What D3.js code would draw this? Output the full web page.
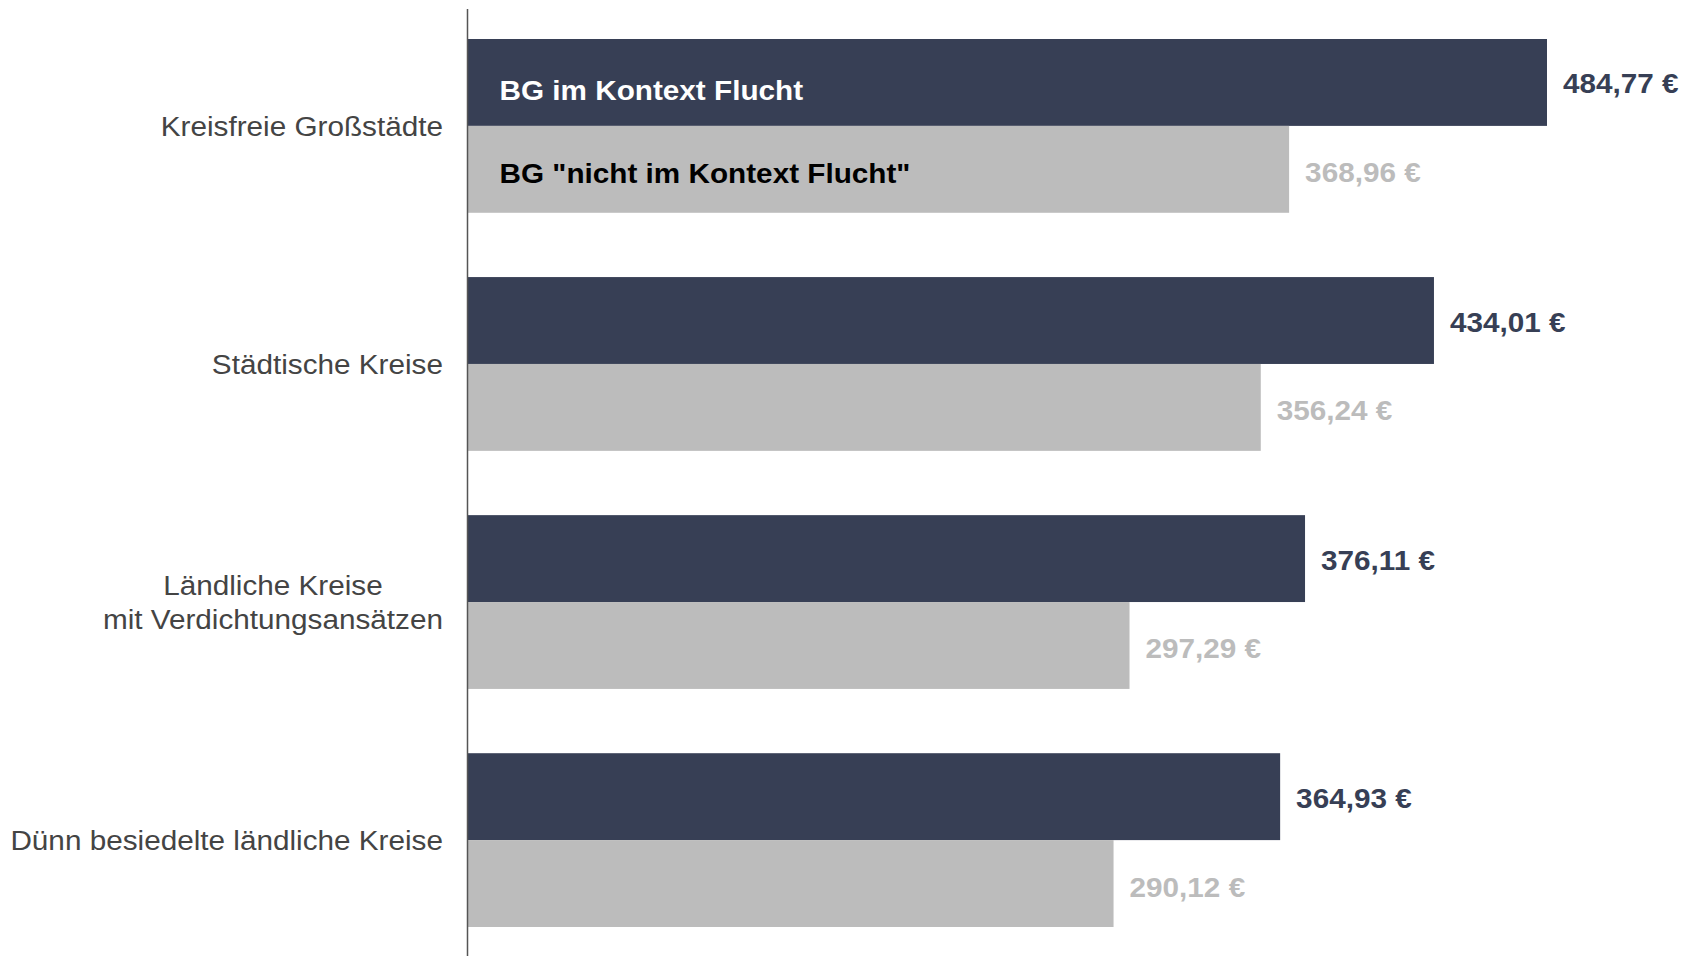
<!DOCTYPE html>
<html>
<head>
<meta charset="utf-8">
<script src="https://cdn.jsdelivr.net/npm/d3@7"></script>
<style>
  body { margin: 0; background: #fff; }
  text { font-family: "Liberation Sans", Arial, sans-serif; }
</style>
</head>
<body>
<div id="chart"></div>
<script>
// data
let categories = [
    ["Kreisfreie Großstädte"],
    ["Städtische Kreise"],
    ["Ländliche Kreise", "mit Verdichtungsansätzen"],
    ["Dünn besiedelte ländliche Kreise"]
]
let seriesNames = ["BG im Kontext Flucht", "BG \"nicht im Kontext Flucht\""]
let fluchtValues = [484.77, 434.01, 376.11, 364.93]
let nichtFluchtValues = [368.96, 356.24, 297.29, 290.12]

let width = 1697, height = 956
let axisX = 467.5
let stretch = 1.1   // the original text is a bit wider than plain Arial

let svg = d3.select("#chart")
    .append("svg")
    .attr("width", width)
    .attr("height", height)

let x = d3.scaleLinear()
    .domain([0, 484.77])
    .range([axisX, 1547])

let y = d3.scaleBand()
    .domain(d3.range(categories.length))
    .range([39, 927])
    .paddingInner(0.27)
    .paddingOuter(0)

let sub = d3.scaleBand()
    .domain([0, 1])
    .range([0, y.bandwidth()])

let colors = ["#373f55", "#bcbcbc"]
let fmt = v => d3.format(".2f")(v).replace(".", ",") + " €"

function widen(sel) {
    sel.each(function() {
        let w = this.getComputedTextLength()
        d3.select(this)
            .attr("textLength", w * stretch)
            .attr("lengthAdjust", "spacingAndGlyphs")
    })
}

let rows = []
categories.forEach((c, i) => {
    rows.push({ cat: i, s: 0, v: fluchtValues[i] })
    rows.push({ cat: i, s: 1, v: nichtFluchtValues[i] })
})

svg.append("g")
    .selectAll("rect")
    .data(rows)
    .enter()
    .append("rect")
    .attr("x", x(0))
    .attr("y", d => y(d.cat) + sub(d.s))
    .attr("width", d => x(d.v) - x(0))
    .attr("height", sub.bandwidth())
    .style("fill", d => colors[d.s])

svg.append("g")
    .selectAll("text")
    .data(rows)
    .enter()
    .append("text")
    .attr("x", d => x(d.v) + 16)
    .attr("y", d => y(d.cat) + sub(d.s) + sub.bandwidth() / 2 + (d.s == 0 ? 11 : 13))
    .style("font-size", "27px")
    .style("font-weight", "bold")
    .style("fill", d => d.s == 0 ? "#373f55" : "#bcbcbc")
    .text(d => fmt(d.v))
    .call(widen)

// legend sits inside the first pair of bars
svg.append("g")
    .selectAll("text")
    .data(seriesNames)
    .enter()
    .append("text")
    .attr("x", axisX + 32)
    .attr("y", (d, i) => y(0) + sub(i) + sub.bandwidth() / 2 + (i == 0 ? 18 : 14))
    .style("font-size", "27px")
    .style("font-weight", "bold")
    .style("fill", (d, i) => i == 0 ? "#ffffff" : "#000000")
    .text(d => d)
    .call(widen)

// category labels, lines centred on each other, block right-aligned
let labels = svg.append("g")
    .selectAll("g")
    .data(categories)
    .enter()
    .append("g")

labels.each(function(lines, i) {
    let g = d3.select(this)
    let mid = y(i) + y.bandwidth() / 2
    let lh = 34
    let t = g.selectAll("text")
        .data(lines)
        .enter()
        .append("text")
        .attr("text-anchor", "middle")
        .attr("y", (d, j) => mid + (j - (lines.length - 1) / 2) * lh + 10)
        .style("font-size", "27px")
        .style("fill", "#444444")
        .text(d => d)
    let maxW = d3.max(t.nodes(), n => n.getComputedTextLength()) * stretch
    t.call(widen)
    t.attr("x", 443 - maxW / 2)
})

svg.append("line")
    .attr("x1", axisX)
    .attr("x2", axisX)
    .attr("y1", 9)
    .attr("y2", height)
    .style("stroke", "#555555")
    .style("stroke-width", 1.5)
</script>
</body>
</html>
